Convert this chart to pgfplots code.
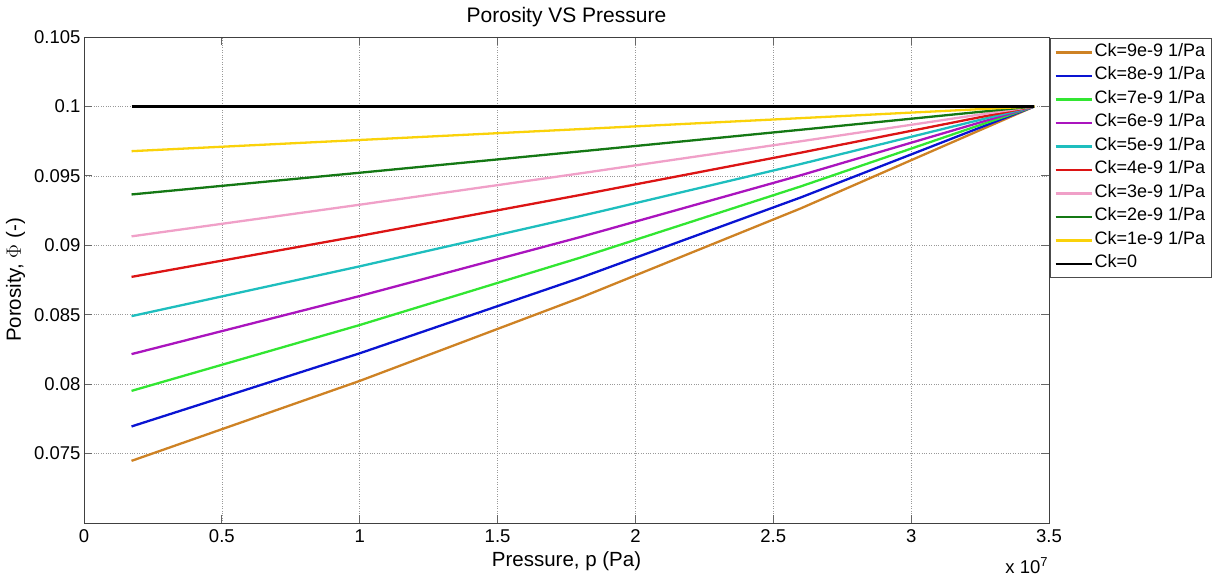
\documentclass[border=0pt]{standalone}
\usepackage{fontspec}
\setmainfont{Liberation Sans}
\usepackage{pgfplots}
\pgfplotsset{compat=1.18}
\definecolor{c9}{RGB}{206,130,36}
\definecolor{c8}{RGB}{10,20,210}
\definecolor{c7}{RGB}{50,230,50}
\definecolor{c6}{RGB}{170,20,190}
\definecolor{c5}{RGB}{30,190,190}
\definecolor{c4}{RGB}{220,20,20}
\definecolor{c3}{RGB}{240,160,200}
\definecolor{c2}{RGB}{20,120,20}
\definecolor{c1}{RGB}{250,210,10}
\begin{document}
\begin{tikzpicture}[x=1pt,y=1pt]
\path[use as bounding box] (0,0) rectangle (1215,575);
\begin{axis}[
  at={(84pt,52pt)}, anchor=south west,
  scale only axis, width=965pt, height=486pt,
  clip mode=individual,
  xmin=0, xmax=3.5e7, ymin=0.07, ymax=0.105,
  xtick={0,5e6,1e7,1.5e7,2e7,2.5e7,3e7,3.5e7},
  xticklabels={0,0.5,1,1.5,2,2.5,3,3.5},
  ytick={0.075,0.08,0.085,0.09,0.095,0.1,0.105},
  yticklabels={0.075,0.08,0.085,0.09,0.095,0.1,0.105},
  scaled x ticks=false,
  tick pos=both, tick align=inside,
  major tick length=8pt,
  tick style={black!60, line width=0.8pt},
  axis line style={black!75, line width=0.8pt},
  grid=major,
  major grid style={black!40, dotted, line width=0.7pt},
  ticklabel style={font=\fontsize{18.5}{20}\selectfont},
  xticklabel style={yshift=-3pt},
  title={Porosity VS Pressure},
  title style={at={(axis description cs:0.5,1.029)}, anchor=center, font=\fontsize{21}{23}\selectfont},
  xlabel={Pressure, p (Pa)},
  xlabel style={at={(axis description cs:0.5,-0.078)}, anchor=center, font=\fontsize{20.5}{22}\selectfont},
  ylabel={Porosity, $\Phi$ (-)},
  ylabel style={at={(axis description cs:-0.071,0.5)}, anchor=center, font=\fontsize{20.5}{22}\selectfont},
  legend cell align=left,
  legend style={at={(rel axis cs:1,1)}, anchor=north west, xshift=1pt, yshift=-1pt,
    font=\fontsize{18}{20}\selectfont, draw=black!70, line width=0.8pt,
    row sep=3.5pt, inner ysep=4pt, inner xsep=4pt,
    nodes={inner sep=2pt, text height=12pt, text depth=4pt}},
  legend image code/.code={\draw[#1] (0pt,0pt) -- (36pt,0pt);},
  every axis plot/.append style={line width=2.3pt},
]
\addplot[c9] coordinates {(1.724e6,0.074475) (1e7,0.080232) (1.8e7,0.086223) (2.6e7,0.092660) (3.447e7,0.1)};
\addlegendentry{Ck=9e-9 1/Pa}
\addplot[c8] coordinates {(1.724e6,0.076953) (1e7,0.082221) (1.8e7,0.087656) (2.6e7,0.093448) (3.447e7,0.1)};
\addlegendentry{Ck=8e-9 1/Pa}
\addplot[c7] coordinates {(1.724e6,0.079515) (1e7,0.084257) (1.8e7,0.089110) (2.6e7,0.094243) (3.447e7,0.1)};
\addlegendentry{Ck=7e-9 1/Pa}
\addplot[c6] coordinates {(1.724e6,0.082162) (1e7,0.086345) (1.8e7,0.090591) (2.6e7,0.095045) (3.447e7,0.1)};
\addlegendentry{Ck=6e-9 1/Pa}
\addplot[c5] coordinates {(1.724e6,0.084897) (1e7,0.088484) (1.8e7,0.092095) (2.6e7,0.095853) (3.447e7,0.1)};
\addlegendentry{Ck=5e-9 1/Pa}
\addplot[c4] coordinates {(1.724e6,0.087724) (1e7,0.090676) (1.8e7,0.093624) (2.6e7,0.096670) (3.447e7,0.1)};
\addlegendentry{Ck=4e-9 1/Pa}
\addplot[c3] coordinates {(1.724e6,0.090643) (1e7,0.092922) (1.8e7,0.095179) (2.6e7,0.097491) (3.447e7,0.1)};
\addlegendentry{Ck=3e-9 1/Pa}
\addplot[c2] coordinates {(1.724e6,0.093660) (1e7,0.095224) (1.8e7,0.096760) (2.6e7,0.098320) (3.447e7,0.1)};
\addlegendentry{Ck=2e-9 1/Pa}
\addplot[c1] coordinates {(1.724e6,0.096778) (1e7,0.097583) (1.8e7,0.098367) (2.6e7,0.099157) (3.447e7,0.1)};
\addlegendentry{Ck=1e-9 1/Pa}
\addplot[black] coordinates {(1.724e6,0.1) (3.447e7,0.1)};
\addlegendentry{Ck=0}
\node[font=\fontsize{18.5}{20}\selectfont] at (rel axis cs:0.977,-0.088) {x 10\textsuperscript{7}};
\end{axis}
\end{tikzpicture}
\end{document}
